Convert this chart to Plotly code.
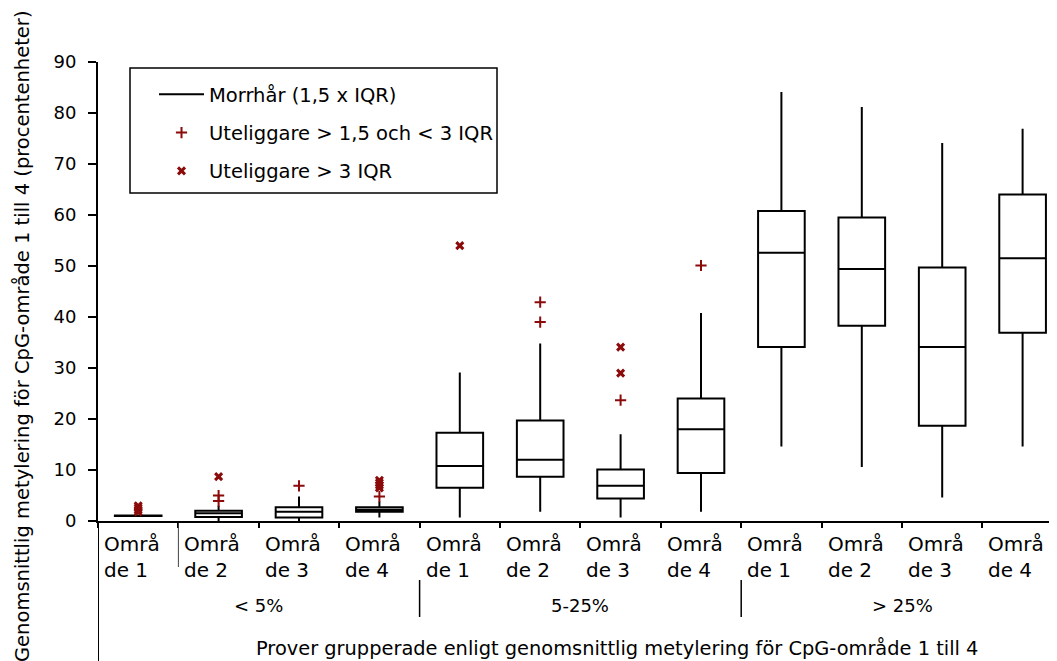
import plotly.graph_objects as go

# ---- data ----
groups = ["< 5%", "5-25%", "> 25%"]
areas = ["Områ<br>de 1", "Områ<br>de 2", "Områ<br>de 3", "Områ<br>de 4"]
lower_whisker = [1.0, 0.0, 0.0, 0.7, 0.7, 1.8, 0.7, 1.8, 14.6, 10.6, 4.6, 14.6]
q1_vals       = [1.0, 0.8, 0.7, 1.8, 6.5, 8.7, 4.4, 9.4, 34.1, 38.3, 18.7, 36.9]
median_vals   = [1.0, 1.5, 1.8, 2.2, 10.8, 12.0, 6.9, 18.0, 52.6, 49.4, 34.1, 51.5]
q3_vals       = [1.1, 2.0, 2.7, 2.7, 17.3, 19.7, 10.1, 24.0, 60.8, 59.5, 49.7, 64.0]
upper_whisker = [1.2, 3.0, 4.8, 3.8, 29.1, 34.8, 17.0, 40.8, 84.1, 81.2, 74.1, 76.9]
# outliers (box index, value)
mild_idx = [1, 1, 2, 3, 5, 5, 6, 7]
mild_val = [5.0, 3.9, 6.9, 4.8, 42.9, 39.0, 23.7, 50.1]
extreme_idx = [0, 0, 0, 0, 1, 3, 3, 3, 3, 4, 6, 6]
extreme_val = [1.8, 2.2, 2.6, 3.0, 8.7, 6.5, 7.0, 7.5, 8.0, 54.0, 29.0, 34.1]
y_ticks = [0, 10, 20, 30, 40, 50, 60, 70, 80, 90]
legend_labels = ["Morrhår (1,5 x IQR)", "Uteliggare > 1,5 och < 3 IQR", "Uteliggare > 3 IQR"]
x_title = "Prover grupperade enligt genomsnittlig metylering för CpG-område 1 till 4"
y_title = "Genomsnittlig metylering för CpG-område 1 till 4 (procentenheter)"

FONT = "DejaVu Sans"
RED = "#8b0a0a"
n = len(q1_vals)
xs = list(range(n))

# page geometry (page has an 8px body margin)
OFF = 8
W, H = 1057 - OFF, 661 - OFF
PL, PT, PB = 98, 62, 521          # plot area edges in page pixels
ML, MT = PL - OFF, PT - OFF
plot_h = PB - PT
MB = H - MT - plot_h
plot_w = W - ML
slot = 80.4
x_end = -0.5 + (1057 - PL) / slot


def pyp(pix):  # page pixel y -> paper y
    return (PB - pix) / plot_h


def pxp(pix):  # page pixel x -> paper x
    return (pix - PL) / plot_w


fig = go.Figure()
fig.add_trace(go.Box(
    x=xs, q1=q1_vals, median=median_vals, q3=q3_vals,
    lowerfence=lower_whisker, upperfence=upper_whisker,
    width=0.58, whiskerwidth=0, boxpoints=False,
    fillcolor="white", line=dict(color="black", width=2),
    showlegend=False, hoverinfo="skip",
))
fig.add_trace(go.Scatter(x=[None], y=[None], mode="lines", name=legend_labels[0],
                         line=dict(color="black", width=2), legendgroup="a"))
fig.add_trace(go.Scatter(x=mild_idx, y=mild_val, mode="markers", name=legend_labels[1],
                         marker=dict(symbol="cross-thin", size=8, color=RED,
                                     line=dict(color=RED, width=2)), legendgroup="b"))
fig.add_trace(go.Scatter(x=extreme_idx, y=extreme_val, mode="markers", name=legend_labels[2],
                         marker=dict(symbol="x-thin", size=7, color=RED,
                                     line=dict(color=RED, width=3)), legendgroup="c"))

annotations = []
for i in range(n):
    annotations.append(dict(x=i - 0.45, y=pyp(530), xref="x", yref="paper",
                            text=areas[i % 4], showarrow=False, xanchor="left", yanchor="top",
                            align="left", font=dict(family=FONT, size=20, color="black")))
for g, name in enumerate(groups):
    annotations.append(dict(x=g * 4 + 1.5, y=pyp(605), xref="x", yref="paper", text=name,
                            showarrow=False, xanchor="center", yanchor="middle",
                            font=dict(family=FONT, size=18, color="black")))
annotations.append(dict(x=5.95, y=pyp(648), xref="x", yref="paper", text=x_title,
                        showarrow=False, xanchor="center", yanchor="middle",
                        font=dict(family=FONT, size=19.4, color="black")))
annotations.append(dict(x=pxp(22), y=pyp(336), xref="paper", yref="paper", text=y_title,
                        showarrow=False, textangle=-90, xanchor="center", yanchor="middle",
                        font=dict(family=FONT, size=19.5, color="black")))

shapes = [
    dict(type="line", xref="x", yref="paper", x0=-0.5, x1=-0.5, y0=0, y1=pyp(661),
         line=dict(color="black", width=2)),
    dict(type="line", xref="x", yref="paper", x0=3.5, x1=3.5, y0=pyp(580), y1=pyp(617),
         line=dict(color="black", width=1.5)),
    dict(type="line", xref="x", yref="paper", x0=7.5, x1=7.5, y0=pyp(580), y1=pyp(617),
         line=dict(color="black", width=1.5)),
    dict(type="line", xref="x", yref="paper", x0=0.5, x1=0.5, y0=pyp(523), y1=pyp(567),
         line=dict(color="#444", width=1)),
    # legend frame
    dict(type="rect", xref="paper", yref="paper", x0=pxp(130), x1=pxp(497),
         y0=pyp(68), y1=pyp(193), line=dict(color="black", width=1.5)),
]

fig.update_layout(
    width=W, height=H,
    margin=dict(l=ML, r=0, t=MT, b=MB),
    plot_bgcolor="white", paper_bgcolor="white",
    font=dict(family=FONT, size=18, color="black"),
    xaxis=dict(range=[-0.5, x_end], showgrid=False, zeroline=False,
               showline=True, linecolor="black", linewidth=2,
               tickmode="array", tickvals=[], showticklabels=False,
               minor=dict(tickmode="array", tickvals=[i - 0.5 for i in range(n + 1)],
                          ticks="outside", ticklen=5, tickcolor="black", tickwidth=2)),
    yaxis=dict(range=[0, 90], tickvals=y_ticks, showgrid=False, zeroline=False,
               showline=True, linecolor="black", linewidth=2,
               ticks="outside", ticklen=8, tickwidth=1.5, tickcolor="black",
               ticklabelstandoff=8,
               tickfont=dict(family=FONT, size=18, color="black")),
    legend=dict(x=pxp(154), y=pyp(75), xanchor="left", yanchor="top",
                borderwidth=0, bgcolor="rgba(0,0,0,0)",
                traceorder="grouped", tracegroupgap=10,
                font=dict(family=FONT, size=19.5, color="black"), itemwidth=45),
    annotations=annotations,
    shapes=shapes,
)

fig.write_html("out.html")
